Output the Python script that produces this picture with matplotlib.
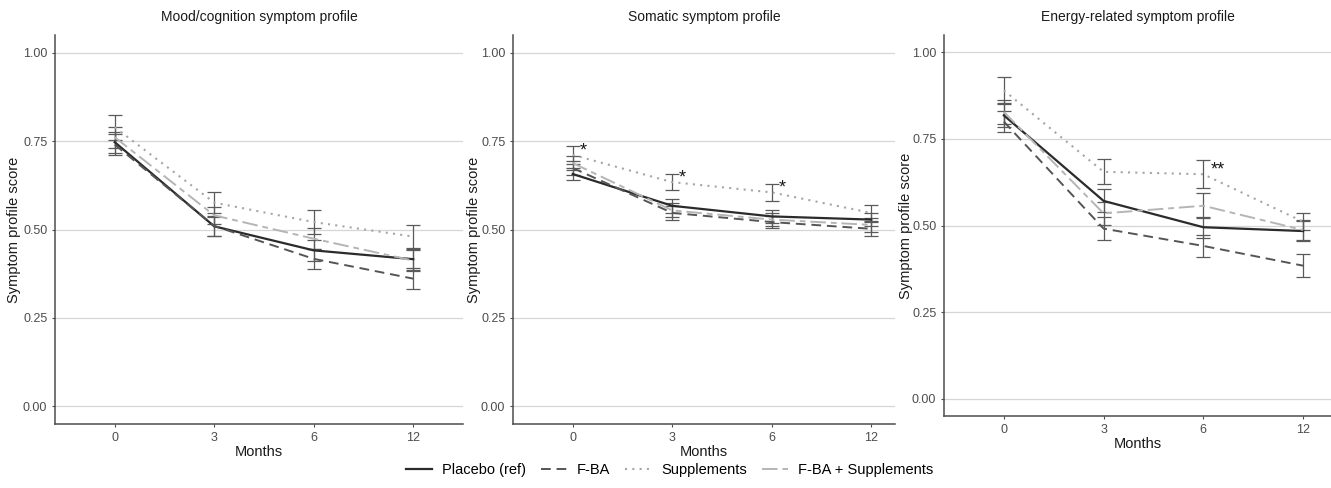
import numpy as np
import matplotlib
matplotlib.use("Agg")
from matplotlib import pyplot as plt

plt.rcParams['font.family'] = ['Liberation Sans', 'DejaVu Sans']

# Time points (discrete axis)
months = ['0', '3', '6', '12']
groups = ['Placebo (ref)', 'F-BA', 'Supplements', 'F-BA + Supplements']

# Mood/cognition symptom profile - means and CI half-widths
mood_placebo = [0.747, 0.509, 0.441, 0.416]
mood_fba = [0.740, 0.510, 0.417, 0.361]
mood_supp = [0.789, 0.576, 0.521, 0.480]
mood_combo = [0.761, 0.540, 0.474, 0.412]
mood_placebo_ci = [0.030, 0.027, 0.030, 0.030]
mood_fba_ci = [0.030, 0.027, 0.028, 0.030]
mood_supp_ci = [0.036, 0.030, 0.034, 0.032]
mood_combo_ci = [0.030, 0.025, 0.030, 0.030]

# Somatic symptom profile
som_placebo = [0.657, 0.567, 0.537, 0.528]
som_fba = [0.674, 0.547, 0.521, 0.502]
som_supp = [0.711, 0.634, 0.605, 0.547]
som_combo = [0.688, 0.554, 0.528, 0.513]
som_placebo_ci = [0.018, 0.020, 0.018, 0.018]
som_fba_ci = [0.020, 0.020, 0.018, 0.020]
som_supp_ci = [0.025, 0.022, 0.024, 0.022]
som_combo_ci = [0.020, 0.020, 0.018, 0.020]
som_stars = ['*', '*', '*', '']

# Energy-related symptom profile
en_placebo = [0.818, 0.571, 0.495, 0.484]
en_fba = [0.800, 0.491, 0.441, 0.384]
en_supp = [0.890, 0.655, 0.648, 0.511]
en_combo = [0.828, 0.535, 0.557, 0.487]
en_placebo_ci = [0.035, 0.033, 0.030, 0.030]
en_fba_ci = [0.030, 0.033, 0.033, 0.033]
en_supp_ci = [0.040, 0.036, 0.040, 0.024]
en_combo_ci = [0.035, 0.033, 0.036, 0.030]
en_stars = ['', '', '**', '']

# Line styles for each group
styles = [
    {'color': '#2b2b2b', 'ls': '-', 'lw': 1.6},
    {'color': '#555555', 'ls': (0, (5, 3)), 'lw': 1.4},
    {'color': '#a6a6a6', 'ls': (0, (1, 2.5)), 'lw': 1.5},
    {'color': '#b5b5b5', 'ls': (0, (8, 2.5, 3, 2.5)), 'lw': 1.4},
]

panels = [
    {
        'title': 'Mood/cognition symptom profile',
        'means': [mood_placebo, mood_fba, mood_supp, mood_combo],
        'cis': [mood_placebo_ci, mood_fba_ci, mood_supp_ci, mood_combo_ci],
        'stars': None,
        'rect': [55 / 1331, 64 / 488, 408 / 1331, 389 / 488],
        'xlim': (-0.6, 3.5),
        'ylabel_x': -0.083,
    },
    {
        'title': 'Somatic symptom profile',
        'means': [som_placebo, som_fba, som_supp, som_combo],
        'cis': [som_placebo_ci, som_fba_ci, som_supp_ci, som_combo_ci],
        'stars': som_stars,
        'rect': [513 / 1331, 64 / 488, 382 / 1331, 389 / 488],
        'xlim': (-0.6, 3.24),
        'ylabel_x': -0.084,
    },
    {
        'title': 'Energy-related symptom profile',
        'means': [en_placebo, en_fba, en_supp, en_combo],
        'cis': [en_placebo_ci, en_fba_ci, en_supp_ci, en_combo_ci],
        'stars': en_stars,
        'rect': [944 / 1331, 72 / 488, 387 / 1331, 381 / 488],
        'xlim': (-0.6, 3.28),
        'ylabel_x': -0.08,
    },
]

fig = plt.figure(figsize=(13.31, 4.88), dpi=100)
x = np.arange(len(months))

handles = []
for panel in panels:
    ax = fig.add_axes(panel['rect'])

    # Grid and frame
    ax.set_ylim(-0.05, 1.05)
    ax.set_xlim(*panel['xlim'])
    ax.set_yticks([0, 0.25, 0.5, 0.75, 1.0])
    ax.set_yticklabels(['0.00', '0.25', '0.50', '0.75', '1.00'])
    ax.set_xticks(x)
    ax.set_xticklabels(months)
    ax.grid(axis='y', color='#d6d6d6', lw=0.9)
    ax.set_axisbelow(True)
    for side in ['top', 'right']:
        ax.spines[side].set_visible(False)
    for side in ['left', 'bottom']:
        ax.spines[side].set_color('#4d4d4d')
        ax.spines[side].set_linewidth(1.1)
    ax.tick_params(length=2.5, width=0.8, color='#4d4d4d', labelsize=9,
                   labelcolor='#4d4d4d', pad=3)

    # Add data
    handles = []
    for means, ci, st, name in zip(panel['means'], panel['cis'], styles, groups):
        ax.errorbar(x, means, yerr=ci, fmt='none', ecolor='#5a5a5a',
                    elinewidth=0.9, capsize=5, capthick=0.9, zorder=2)
        h, = ax.plot(x, means, color=st['color'], ls=st['ls'], lw=st['lw'],
                     label=name, zorder=3)
        handles.append(h)

    # Significance markers next to supplements
    if panel['stars']:
        for xi, yi, s in zip(x, panel['means'][2], panel['stars']):
            if s:
                ax.text(xi + 0.07, yi + 0.012, s, fontsize=13, ha='left',
                        va='center', color='#1a1a1a')

    ax.set_title(panel['title'], fontsize=10, pad=10, color='#1a1a1a')
    ax.set_xlabel('Months', fontsize=10.5, labelpad=1, color='#1a1a1a')
    ax.set_ylabel('Symptom profile score', fontsize=10.5, color='#1a1a1a')
    ax.yaxis.set_label_coords(panel['ylabel_x'], 0.5)

fig.legend(handles=handles, labels=groups, loc='center', ncol=4,
           bbox_to_anchor=(0.503, 0.036), frameon=False, fontsize=10.5,
           handlelength=1.8, columnspacing=1.0, handletextpad=0.7)

plt.savefig('out.png', dpi=100)
plt.close()
